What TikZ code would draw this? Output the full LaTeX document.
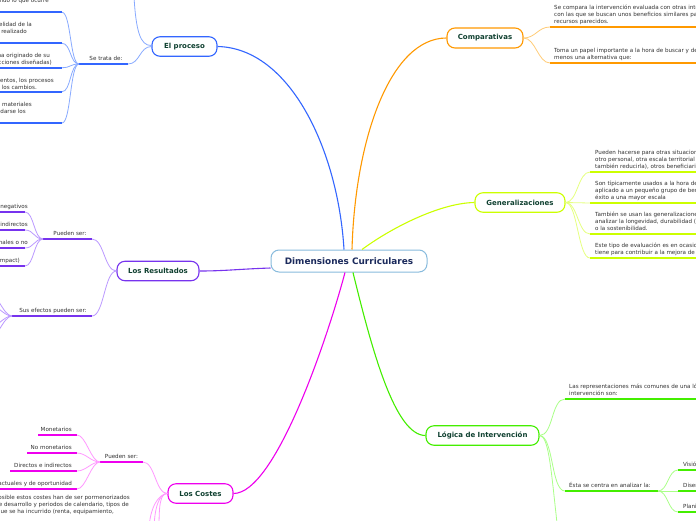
\documentclass[tikz,border=0pt]{standalone}
\usepackage{fontspec}
\setmainfont{DejaVu Sans}
\usetikzlibrary{calc}
\definecolor{ctrline}{HTML}{88BBDD}
\definecolor{ctrtext}{HTML}{1B2A5C}
\definecolor{nodetext}{HTML}{0F4030}
\definecolor{smalltext}{HTML}{333333}
\definecolor{cblue}{HTML}{3366FF}
\definecolor{cbluel}{HTML}{88AAFF}
\definecolor{corange}{HTML}{FF9900}
\definecolor{corangel}{HTML}{FFCC77}
\definecolor{cyellow}{HTML}{CCFF00}
\definecolor{cyellowl}{HTML}{E6FF80}
\definecolor{cpurple}{HTML}{7733EE}
\definecolor{cpurplel}{HTML}{BB99FF}
\definecolor{cmag}{HTML}{EE00EE}
\definecolor{cmagl}{HTML}{FF99FF}
\definecolor{cgreen}{HTML}{44EE00}
\definecolor{cgreenl}{HTML}{AAFF88}
\tikzset{
  topic/.style={draw, line width=1.1pt, rounded corners=8pt, fill=white, text=nodetext,
    font=\fontsize{7}{8}\selectfont\bfseries, inner sep=0pt, minimum height=19.5pt},
  smalltxt/.style={font=\fontsize{5.6}{7}\selectfont, text=smalltext, inner sep=0pt},
  uline/.style={line width=1.8pt},
  sub/.style={line width=0.8pt},
  mainline/.style={line width=1.1pt}
}
\newcommand{\txtL}[4]{\node[smalltxt,anchor=base west] (#1) at (#2,#3) {#4};}
\newcommand{\txtR}[4]{\node[smalltxt,anchor=base east] (#1) at (#2,#3) {#4};}
\begin{document}
\begin{tikzpicture}[x=1pt,y=-1pt]
\useasboundingbox (0,0) rectangle (696,520);
\fill[white] (0,0) rectangle (696,520);
\clip (0,0) rectangle (696,520);

% ---------- main nodes ----------
\node[topic, draw=ctrline, line width=1pt, text=ctrtext, font=\fontsize{8.9}{10}\selectfont\bfseries,
      minimum width=156pt, minimum height=22pt] (ctr) at (349,261) {Dimensiones Curriculares};
\node[topic, draw=cblue, minimum width=65pt] (proc) at (184.5,46.5) {El proceso};
\node[topic, draw=corange, minimum width=76pt, minimum height=20pt] (comp) at (485,38) {Comparativas};
\node[topic, draw=cyellow, minimum width=90pt] (gen) at (520,202.5) {Generalizaciones};
\node[topic, draw=cpurple, minimum width=82pt] (res) at (158,271) {Los Resultados};
\node[topic, draw=cmag, minimum width=65pt] (cost) at (200.5,493.5) {Los Costes};
\node[topic, draw=cgreen, minimum width=113pt] (logi) at (482.5,435.5) {Lógica de Intervención};

% ---------- main connectors ----------
\draw[mainline, draw=cblue] ([xshift=-5pt]ctr.north) .. controls (338,150) and (290,48) .. (proc.east);
\draw[mainline, draw=corange] ([xshift=3pt]ctr.north) .. controls (355,140) and (390,38) .. (comp.west);
\draw[mainline, draw=cyellow] ([xshift=13pt]ctr.north) .. controls (391,228) and (440,203) .. (gen.west);
\draw[mainline, draw=cpurple] ([yshift=-7pt]ctr.west) .. controls (240,269) and (225,271) .. (res.east);
\draw[mainline, draw=cmag] ([xshift=-4pt]ctr.south) .. controls (327,340) and (275,493.5) .. (cost.east);
\draw[mainline, draw=cgreen] ([xshift=4pt]ctr.south) .. controls (372,350) and (395,435.5) .. (logi.west);

% ---------- El proceso ----------
\coordinate (pup) at (134,-3);
\draw[sub, draw=cbluel] ([yshift=1pt]proc.west) .. controls (140,46) and (136,30) .. (pup);
\coordinate (st0) at (79,64);
\coordinate (st1) at (128,64);
\draw[sub, draw=cbluel] (proc.west) .. controls +(-12,0) and +(12,0) .. (st1);
\draw[uline, draw=cblue] (st0) -- (st1);
\node[smalltxt, anchor=base] (sttxt) at (106,60.5) {Se trata de:};
\foreach \n/\y in {1/12.3,2/43.3,3/67.7,4/91.7,5/123} {
  \coordinate (pe\n) at (62,\y);
  \coordinate (pb\n) at (-5,\y);
  \draw[sub, draw=cbluel] (st0) .. controls +(-9,0) and +(9,0) .. (pe\n);
  \draw[uline, draw=cblue] (pb\n) -- (pe\n);
}
\txtR{p1a}{49}{2}{observando y registrando lo que ocurre}
\txtR{p2a}{32}{26}{Analizar la fidelidad de la}
\txtR{p2b}{27}{33}{realizado}
\txtR{p3a}{50}{57}{El cambio que se ha originado de su}
\txtR{p3b}{52}{64}{aplicación (instrucciones diseñadas)}
\txtR{p4a}{54}{82}{Los procedimientos, los procesos}
\txtR{p4b}{37}{89}{y los cambios.}
\txtR{p5a}{32}{106}{Disponer de materiales}
\txtR{p5b}{26}{113}{darse los}

% ---------- Los Resultados ----------
\coordinate (rp0) at (43,239);
\coordinate (rp1) at (92,239);
\draw[sub, draw=cpurplel] (res.west) .. controls +(-12,0) and +(12,0) .. (rp1);
\draw[uline, draw=cpurple] (rp0) -- (rp1);
\node[smalltxt, anchor=base] (rptxt) at (70,235) {Pueden ser:};
\foreach \n/\y in {1/212,2/230,3/248,4/266} {
  \coordinate (re\n) at (25,\y);
  \coordinate (rb\n) at (-5,\y);
  \draw[sub, draw=cpurplel] (rp0) .. controls +(-9,0) and +(9,0) .. (re\n);
  \draw[uline, draw=cpurple] (rb\n) -- (re\n);
}
\txtR{r1}{28}{208}{Positivos o negativos}
\txtR{r2}{28}{226}{Directos o indirectos}
\txtR{r3}{28}{244}{Intencionales o no}
\txtR{r4}{20}{262}{A largo plazo (impact)}
\coordinate (se0) at (12,316);
\coordinate (se1) at (92,316);
\draw[sub, draw=cpurplel] (res.west) .. controls +(-12,0) and +(12,0) .. (se1);
\draw[uline, draw=cpurple] (se0) -- (se1);
\node[smalltxt, anchor=base] (setxt) at (53,312) {Sus efectos pueden ser:};
\foreach \n/\y in {1/288,2/302,3/330,4/344} {
  \coordinate (so\n) at (-14,\y);
  \draw[sub, draw=cpurplel] (se0) .. controls +(-9,0) and +(9,0) .. (so\n);
}

% ---------- Los Costes ----------
\coordinate (cp0) at (100,462);
\coordinate (cp1) at (143,462);
\draw[sub, draw=cmagl] (cost.west) .. controls +(-12,0) and +(12,0) .. (cp1);
\draw[uline, draw=cmag] (cp0) -- (cp1);
\node[smalltxt, anchor=base] (cptxt) at (121.5,458) {Pueden ser:};
\foreach \n/\xs/\y in {1/38/435,2/27/453,3/10/471,4/-5/489} {
  \coordinate (ce\n) at (77,\y);
  \coordinate (cb\n) at (\xs,\y);
  \draw[sub, draw=cmagl] (cp0) .. controls +(-9,0) and +(9,0) .. (ce\n);
  \draw[uline, draw=cmag] (cb\n) -- (ce\n);
}
\txtR{c1}{72}{431}{Monetarios}
\txtR{c2}{72}{449}{No monetarios}
\txtR{c3}{72}{467}{Directos e indirectos}
\txtR{c4}{72}{485}{Contractuales y de oportunidad}
\foreach \n/\x in {1/149,2/154,3/159} {
  \coordinate (cd\n) at (\x,532);
  \draw[sub, draw=cmagl] (cost.west) .. controls +(-8,0) and +(0,-25) .. (cd\n);
}
\txtR{cl1}{130}{499}{Siempre que sea posible estos costes han de ser pormenorizados}
\txtR{cl2}{129}{506}{por fases de desarrollo y periodos de calendario, tipos de}
\txtR{cl3}{114}{513}{coste en que se ha incurrido (renta, equipamiento,}

% ---------- Comparativas ----------
\foreach \n/\y in {1/27,2/63} {
  \coordinate (co\n) at (550,\y);
  \coordinate (cz\n) at (705,\y);
  \draw[sub, draw=corangel] (comp.east) .. controls +(12,0) and +(-12,0) .. (co\n);
  \draw[uline, draw=corange] (co\n) -- (cz\n);
}
\txtL{k1a}{554}{9}{Se compara la intervención evaluada con otras intervenciones}
\txtL{k1b}{554}{16}{con las que se buscan unos beneficios similares para grupos}
\txtL{k1c}{554}{23}{recursos parecidos.}
\txtL{k2a}{554}{52}{Toma un papel importante a la hora de buscar y decidir por lo}
\txtL{k2b}{554}{59}{menos una alternativa que:}

% ---------- Generalizaciones ----------
\foreach \n/\y in {1/172,2/203,3/234,4/258} {
  \coordinate (go\n) at (590,\y);
  \coordinate (gz\n) at (705,\y);
  \draw[sub, draw=cyellowl] (gen.east) .. controls +(12,0) and +(-12,0) .. (go\n);
  \draw[uline, draw=cyellow] (go\n) -- (gz\n);
}
\txtL{g1a}{595}{154}{Pueden hacerse para otras situaciones (otro contexto,}
\txtL{g1b}{595}{161}{otro personal, otra escala territorial -ampliarla o}
\txtL{g1c}{595}{168}{también reducirla), otros beneficiarios...}
\txtL{g2a}{595}{185}{Son típicamente usados a la hora de extender lo}
\txtL{g2b}{595}{192}{aplicado a un pequeño grupo de beneficiarios con}
\txtL{g2c}{595}{199}{éxito a una mayor escala}
\txtL{g3a}{595}{216}{También se usan las generalizaciones para}
\txtL{g3b}{595}{223}{analizar la longevidad, durabilidad (a largo plazo)}
\txtL{g3c}{595}{230}{o la sostenibilidad.}
\txtL{g4a}{595}{247}{Este tipo de evaluación es en ocasiones el que más}
\txtL{g4b}{595}{254}{tiene para contribuir a la mejora de la política}

% ---------- Lógica de Intervención ----------
\coordinate (lr0) at (565,399);
\coordinate (lr1) at (705,399);
\draw[sub, draw=cgreenl] (logi.east) .. controls +(14,0) and +(-14,0) .. (lr0);
\draw[uline, draw=cgreen] (lr0) -- (lr1);
\txtL{l1a}{569}{388}{Las representaciones más comunes de una lógica de}
\txtL{l1b}{569}{395}{intervención son:}
\coordinate (le0) at (565,491);
\coordinate (le1) at (658,491);
\draw[sub, draw=cgreenl] (logi.east) .. controls +(14,0) and +(-14,0) .. (le0);
\draw[uline, draw=cgreen] (le0) -- (le1);
\txtL{l2a}{569}{487}{Ésta se centra en analizar la:}
\coordinate (ld) at (558,532);
\draw[sub, draw=cgreenl] (logi.east) .. controls (549,436) and (551,470) .. (ld);
\foreach \n/\y in {1/470,2/491,3/512} {
  \coordinate (lv\n) at (678,\y);
  \coordinate (lz\n) at (705,\y);
  \draw[sub, draw=cgreenl] (le1) .. controls +(10,0) and +(-10,0) .. (lv\n);
  \draw[uline, draw=cgreen] (lv\n) -- (lz\n);
}
\txtL{v1}{683}{466}{Visión}
\txtL{v2}{683}{487}{Diseño}
\txtL{v3}{683}{508}{Planificación}
\end{tikzpicture}
\end{document}
